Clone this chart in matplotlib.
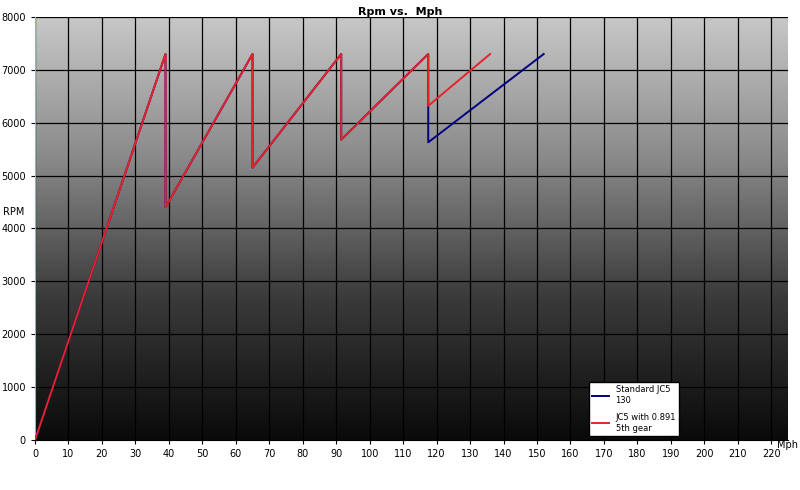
import matplotlib
matplotlib.use("Agg")
import matplotlib.pyplot as plt
import numpy as np
from matplotlib.colors import LinearSegmentedColormap

std_x = [0, 39, 39, 65, 65, 91.5, 91.5, 117.5, 117.5, 152]
std_y = [0, 7300, 4400, 7300, 5150, 7300, 5680, 7300, 5630, 7300]
mod_x = [0, 39, 39, 65, 65, 91.5, 91.5, 117.5, 117.5, 136]
mod_y = [0, 7300, 4400, 7300, 5150, 7300, 5680, 7300, 6320, 7300]
xticks = list(range(0, 221, 10))
yticks = list(range(0, 8001, 1000))

fig = plt.figure(figsize=(8, 4.9), dpi=100)
ax = fig.add_axes([35/800, 1-440/490, 753/800, 423/490])
grad = np.linspace(0, 1, 256).reshape(-1, 1)
cm = LinearSegmentedColormap.from_list("g", ["#0a0a0a", "#3a3a3a", "#8a8a8a", "#c8c8c8"])
ax.imshow(grad, cmap=cm, aspect="auto", extent=[0, 225, 0, 8000], origin="lower", zorder=0)
ax.set_xlim(0, 225)
ax.set_ylim(0, 8000)
ax.set_xticks(xticks)
ax.set_yticks(yticks)
ax.grid(True, color="black", linewidth=0.9, zorder=1)
ax.plot(std_x, std_y, color="#000080", lw=1.4, label="Standard JC5\n130", zorder=3)
ax.plot(mod_x, mod_y, color="#e8222a", lw=1.4, label="JC5 with 0.891\n5th gear", zorder=4)
ax.tick_params(labelsize=7, length=3)
for s in ["top", "right"]:
    ax.spines[s].set_visible(False)
ax.spines["left"].set_color("#9acd32")
fig.text(0.5, 0.975, "Rpm vs.  Mph", ha="center", va="center", fontsize=8, fontweight="bold")
fig.text(14/800, 1-212/490, "RPM", ha="center", va="center", fontsize=7)
fig.text(788/800, 1-445/490, "Mph", ha="center", va="center", fontsize=7)
ax.legend(loc="lower left", bbox_to_anchor=(0.73, 0.0), fontsize=6, frameon=True,
          fancybox=False, framealpha=1, edgecolor="black", handlelength=2, labelspacing=1)
fig.savefig("out.png")
